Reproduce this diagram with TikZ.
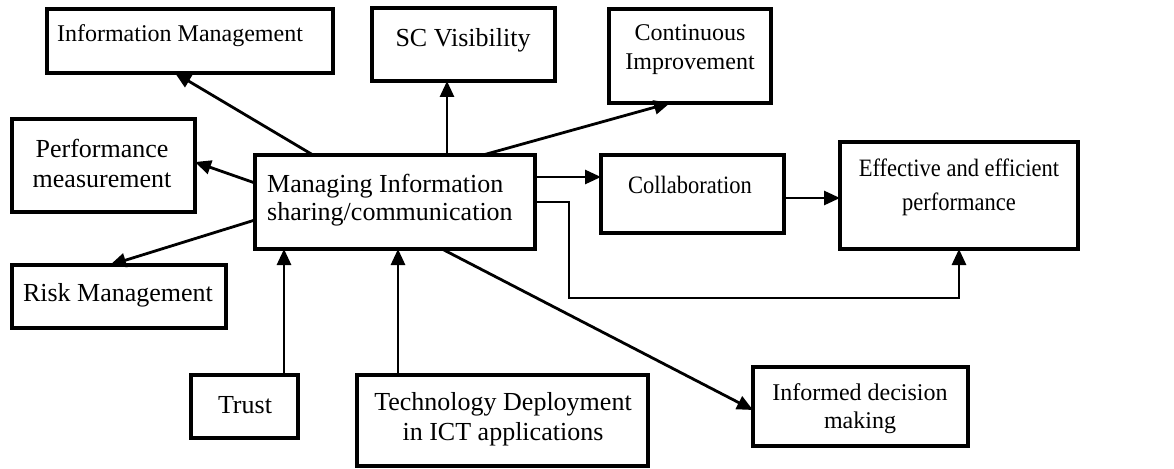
\documentclass[tikz,border=0pt]{standalone}
\usepackage{fontspec}
\setmainfont{Liberation Serif}
\usetikzlibrary{arrows.meta,calc}
\tikzset{
  box/.style={draw, line width=3.5pt, inner sep=0pt, outer sep=0pt, fill=white},
  lbl/.style={inner sep=0pt, align=center},
  arr/.style={line width=2.8pt, -{Triangle[length=16pt,width=14pt]}},
  fa/.style={font=\fontsize{24}{29}\selectfont},
  fb/.style={font=\fontsize{26}{29}\selectfont},
  narrow/.style={font=\fontsize{25}{34}\selectfont, xscale=0.9, transform shape}
}
\begin{document}
\begin{tikzpicture}[x=1pt, y=-1pt]
\useasboundingbox (0,0) rectangle (1174,468);

% boxes
\node[box, minimum width=286pt, minimum height=64pt] (im)    at (190,41)      {};
\node[box, minimum width=183pt, minimum height=73pt] (scv)   at (463.5,44.5)  {};
\node[box, minimum width=162pt, minimum height=94pt] (ci)    at (690,56)      {};
\node[box, minimum width=183pt, minimum height=93pt] (pm)    at (103.5,165.5) {};
\node[box, minimum width=280pt, minimum height=94pt] (mis)   at (395,202)     {};
\node[box, minimum width=183pt, minimum height=78pt] (col)   at (692.5,194)   {};
\node[box, minimum width=238pt, minimum height=107pt] (eff)  at (959,195.5)   {};
\node[box, minimum width=214pt, minimum height=63pt] (rm)    at (119,296.5)   {};
\node[box, minimum width=107pt, minimum height=63pt] (trust) at (244.5,406.5) {};
\node[box, minimum width=291pt, minimum height=91pt] (tech)  at (502.5,420.5) {};
\node[box, minimum width=215pt, minimum height=79pt] (idm)   at (860.5,406.5) {};

% labels
\node[lbl, fa] (im-t)    at (180,36)    {Information Management};
\node[lbl, fb] (scv-t)   at (463,40)    {SC Visibility};
\node[lbl, fa] (ci-t)    at (690,50)    {Continuous\\Improvement};
\node[lbl, font=\fontsize{26}{30}\selectfont] (pm-t) at (102,163) {Performance\\measurement};
\node[lbl, align=left, anchor=west, font=\fontsize{26}{28}\selectfont] (mis-t) at (267,200) {Managing Information\\sharing/communication};
\node[lbl, narrow] (col-t) at (690,185)   {Collaboration};
\node[lbl, narrow] (eff-t) at (959,187)   {Effective and efficient\\performance};
\node[lbl, fb] (rm-t)    at (118,295)   {Risk Management};
\node[lbl, fb] (trust-t) at (245,405)   {Trust};
\node[lbl, font=\fontsize{26}{30}\selectfont] (tech-t) at (503,419.5) {Technology Deployment\\in ICT applications};
\node[lbl, font=\fontsize{24}{28}\selectfont] (idm-t) at (860,408.5) {Informed decision\\making};

% connectors leaving the central box
\draw[arr] ([xshift=58pt]mis.north west) -- ([xshift=128pt]im.south west);
\draw[arr] ([xshift=192pt]mis.north west) -- ([xshift=192pt]mis.north west |- scv.south);
\draw[arr] ([xshift=228pt]mis.north west) -- ([xshift=61pt]ci.south west);
\draw[arr] ([yshift=19pt]mis.west) -- ([yshift=3.5pt]pm.east);
\draw[arr] ([yshift=-18pt]mis.west) -- ([xshift=98pt]rm.north west);
\draw[arr] ([yshift=25pt]mis.east) -- ([yshift=25pt]mis.east -| col.west);
\draw[arr] ([xshift=187pt]mis.south west) -- ([yshift=-3.5pt]idm.west);
\coordinate (bend) at (569,298);
\draw[arr] (mis.east) -- (bend |- mis.east) -- (bend) -| (eff.south);
\draw[arr] ([yshift=-4pt]col.east) -- ([yshift=-4pt]col.east -| eff.west);

% connectors entering the central box
\draw[arr] ([xshift=93pt]trust.north west) -- ([xshift=93pt]trust.north west |- mis.south);
\draw[arr] ([xshift=41pt]tech.north west) -- ([xshift=41pt]tech.north west |- mis.south);
\end{tikzpicture}
\end{document}
